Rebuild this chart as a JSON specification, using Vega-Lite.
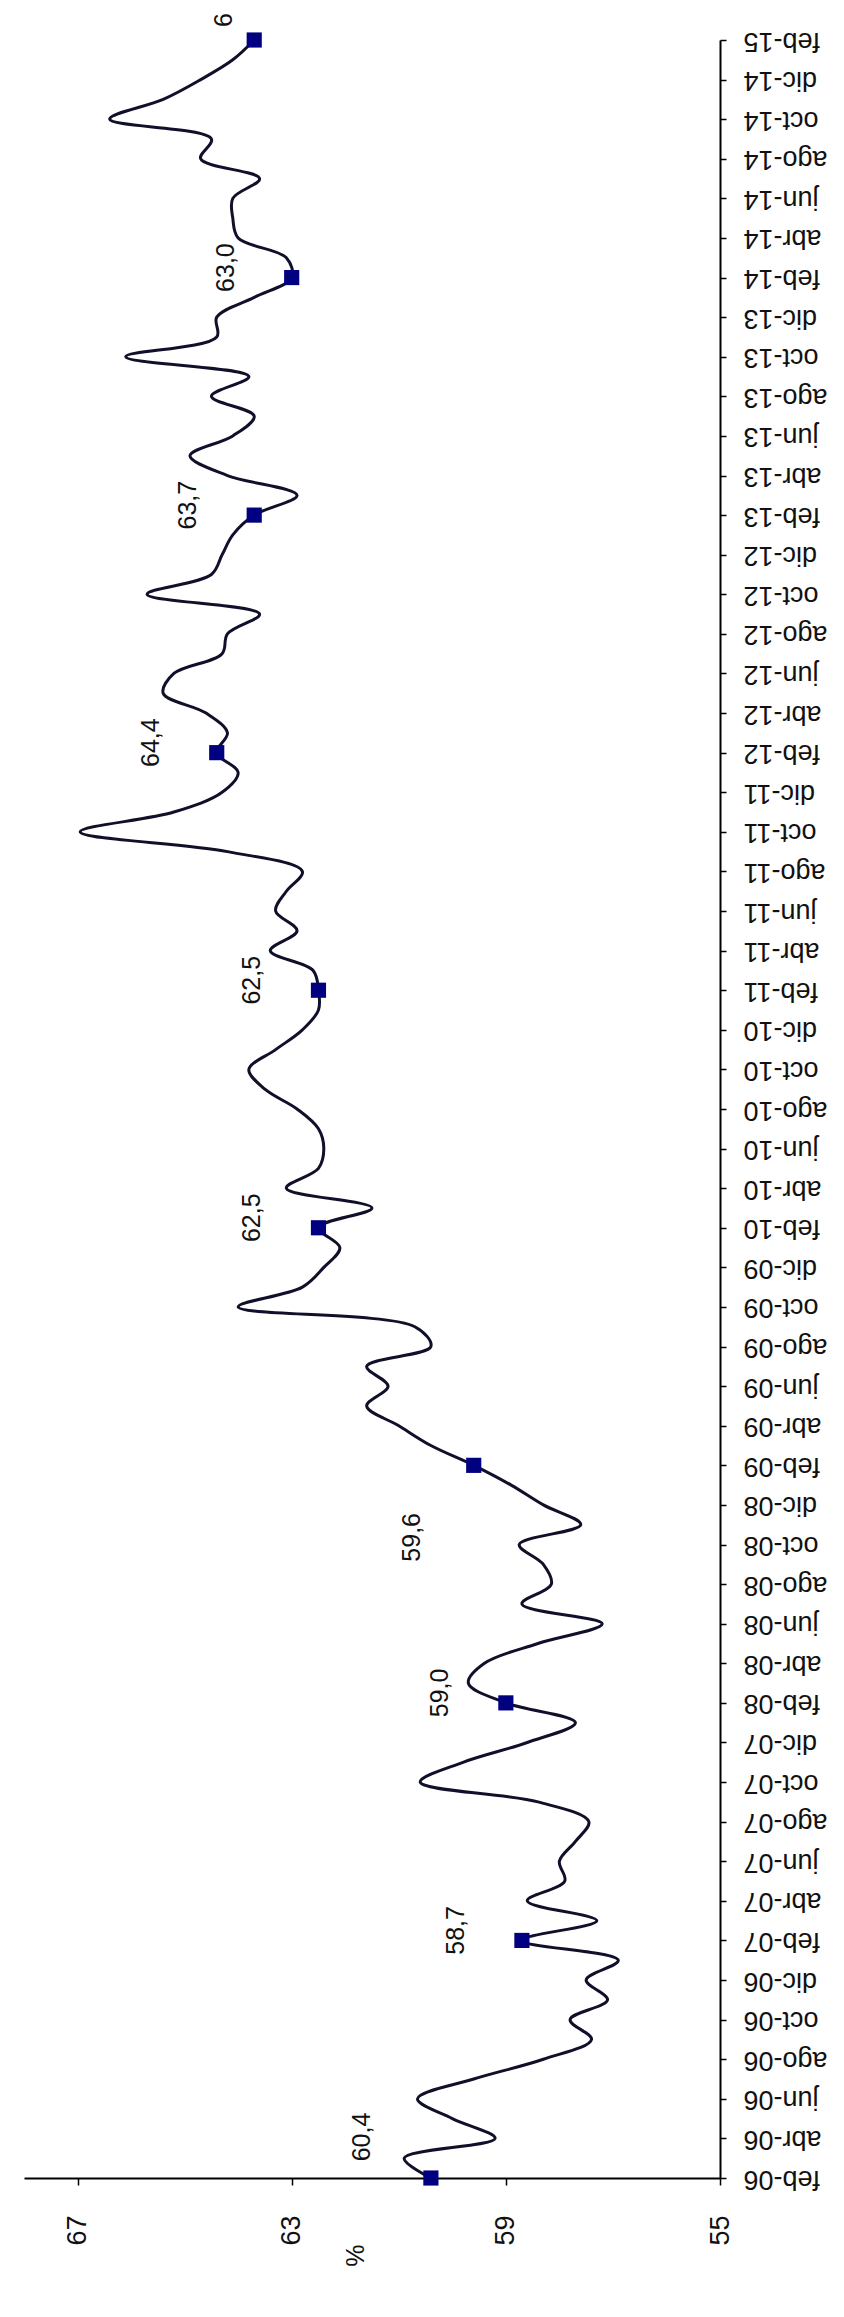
{
  "$schema": "https://vega.github.io/schema/vega-lite/v6.json",
  "width": 696,
  "height": 2138,
  "autosize": {"type": "none"},
  "padding": {"left": 24, "top": 40, "right": 124, "bottom": 139},
  "background": "white",
  "config": {"view": {"stroke": null}, "font": "Liberation Sans"},
  "data": {"values": [
    {"mes": "feb-06", "valor": 60.4, "etiqueta": "60,4"},
    {"mes": "mar-06", "valor": 60.9},
    {"mes": "abr-06", "valor": 59.2},
    {"mes": "may-06", "valor": 60.0},
    {"mes": "jun-06", "valor": 60.65},
    {"mes": "jul-06", "valor": 59.6},
    {"mes": "ago-06", "valor": 58.3},
    {"mes": "sep-06", "valor": 57.4},
    {"mes": "oct-06", "valor": 57.8},
    {"mes": "nov-06", "valor": 57.1},
    {"mes": "dic-06", "valor": 57.5},
    {"mes": "ene-07", "valor": 56.9},
    {"mes": "feb-07", "valor": 58.7, "etiqueta": "58,7"},
    {"mes": "mar-07", "valor": 57.3},
    {"mes": "abr-07", "valor": 58.6},
    {"mes": "may-07", "valor": 57.9},
    {"mes": "jun-07", "valor": 58.0},
    {"mes": "jul-07", "valor": 57.7},
    {"mes": "ago-07", "valor": 57.45},
    {"mes": "sep-07", "valor": 58.4},
    {"mes": "oct-07", "valor": 60.6},
    {"mes": "nov-07", "valor": 59.8},
    {"mes": "dic-07", "valor": 58.6},
    {"mes": "ene-08", "valor": 57.7},
    {"mes": "feb-08", "valor": 59.0, "etiqueta": "59,0"},
    {"mes": "mar-08", "valor": 59.7},
    {"mes": "abr-08", "valor": 59.4},
    {"mes": "may-08", "valor": 58.4},
    {"mes": "jun-08", "valor": 57.2},
    {"mes": "jul-08", "valor": 58.7},
    {"mes": "ago-08", "valor": 58.15},
    {"mes": "sep-08", "valor": 58.3},
    {"mes": "oct-08", "valor": 58.75},
    {"mes": "nov-08", "valor": 57.6},
    {"mes": "dic-08", "valor": 58.3},
    {"mes": "ene-09", "valor": 58.9},
    {"mes": "feb-09", "valor": 59.6, "etiqueta": "59,6"},
    {"mes": "mar-09", "valor": 60.4},
    {"mes": "abr-09", "valor": 61.0},
    {"mes": "may-09", "valor": 61.6},
    {"mes": "jun-09", "valor": 61.2},
    {"mes": "jul-09", "valor": 61.6},
    {"mes": "ago-09", "valor": 60.4},
    {"mes": "sep-09", "valor": 60.7},
    {"mes": "oct-09", "valor": 64.0},
    {"mes": "nov-09", "valor": 62.8},
    {"mes": "dic-09", "valor": 62.4},
    {"mes": "ene-10", "valor": 62.1},
    {"mes": "feb-10", "valor": 62.5, "etiqueta": "62,5"},
    {"mes": "mar-10", "valor": 61.5},
    {"mes": "abr-10", "valor": 63.1},
    {"mes": "may-10", "valor": 62.5},
    {"mes": "jun-10", "valor": 62.4},
    {"mes": "jul-10", "valor": 62.5},
    {"mes": "ago-10", "valor": 62.9},
    {"mes": "sep-10", "valor": 63.5},
    {"mes": "oct-10", "valor": 63.8},
    {"mes": "nov-10", "valor": 63.3},
    {"mes": "dic-10", "valor": 62.8},
    {"mes": "ene-11", "valor": 62.5},
    {"mes": "feb-11", "valor": 62.5, "etiqueta": "62,5"},
    {"mes": "mar-11", "valor": 62.6},
    {"mes": "abr-11", "valor": 63.4},
    {"mes": "may-11", "valor": 62.9},
    {"mes": "jun-11", "valor": 63.3},
    {"mes": "jul-11", "valor": 63.1},
    {"mes": "ago-11", "valor": 62.8},
    {"mes": "sep-11", "valor": 64.2},
    {"mes": "oct-11", "valor": 66.95},
    {"mes": "nov-11", "valor": 65.2},
    {"mes": "dic-11", "valor": 64.3},
    {"mes": "ene-12", "valor": 64.0},
    {"mes": "feb-12", "valor": 64.4, "etiqueta": "64,4"},
    {"mes": "mar-12", "valor": 64.2},
    {"mes": "abr-12", "valor": 64.6},
    {"mes": "may-12", "valor": 65.4},
    {"mes": "jun-12", "valor": 65.2},
    {"mes": "jul-12", "valor": 64.3},
    {"mes": "ago-12", "valor": 64.2},
    {"mes": "sep-12", "valor": 63.6},
    {"mes": "oct-12", "valor": 65.7},
    {"mes": "nov-12", "valor": 64.5},
    {"mes": "dic-12", "valor": 64.3},
    {"mes": "ene-13", "valor": 64.1},
    {"mes": "feb-13", "valor": 63.7, "etiqueta": "63,7"},
    {"mes": "mar-13", "valor": 62.9},
    {"mes": "abr-13", "valor": 64.2},
    {"mes": "may-13", "valor": 64.9},
    {"mes": "jun-13", "valor": 64.1},
    {"mes": "jul-13", "valor": 63.7},
    {"mes": "ago-13", "valor": 64.5},
    {"mes": "sep-13", "valor": 63.8},
    {"mes": "oct-13", "valor": 66.1},
    {"mes": "nov-13", "valor": 64.4},
    {"mes": "dic-13", "valor": 64.4},
    {"mes": "ene-14", "valor": 63.7},
    {"mes": "feb-14", "valor": 63.0, "etiqueta": "63,0"},
    {"mes": "mar-14", "valor": 63.1},
    {"mes": "abr-14", "valor": 64.0},
    {"mes": "may-14", "valor": 64.1},
    {"mes": "jun-14", "valor": 64.1},
    {"mes": "jul-14", "valor": 63.6},
    {"mes": "ago-14", "valor": 64.7},
    {"mes": "sep-14", "valor": 64.5},
    {"mes": "oct-14", "valor": 66.4},
    {"mes": "nov-14", "valor": 65.4},
    {"mes": "dic-14", "valor": 64.7},
    {"mes": "ene-15", "valor": 64.1},
    {"mes": "feb-15", "valor": 63.7, "etiqueta": "6"}
  ]},
  "encoding": {
    "y": {
      "field": "mes", "type": "ordinal", "sort": null,
      "scale": {"type": "point", "padding": 0, "reverse": true},
      "axis": {
        "orient": "right", "title": null, "grid": false, "labelOverlap": false,
        "values": ["feb-06","abr-06","jun-06","ago-06","oct-06","dic-06","feb-07","abr-07","jun-07","ago-07","oct-07","dic-07","feb-08","abr-08","jun-08","ago-08","oct-08","dic-08","feb-09","abr-09","jun-09","ago-09","oct-09","dic-09","feb-10","abr-10","jun-10","ago-10","oct-10","dic-10","feb-11","abr-11","jun-11","ago-11","oct-11","dic-11","feb-12","abr-12","jun-12","ago-12","oct-12","dic-12","feb-13","abr-13","jun-13","ago-13","oct-13","dic-13","feb-14","abr-14","jun-14","ago-14","oct-14","dic-14","feb-15"],
        "labelAngle": 180, "labelAlign": "right", "labelBaseline": "middle",
        "labelFontSize": 27, "labelColor": "#111", "labelPadding": 17,
        "tickSize": 6, "tickColor": "#000", "tickWidth": 1.5,
        "domainColor": "#000", "domainWidth": 2
      }
    },
    "x": {
      "field": "valor", "type": "quantitative",
      "scale": {"domain": [55, 68], "reverse": true, "nice": false, "zero": false},
      "axis": {
        "orient": "bottom", "grid": false, "values": [55, 59, 63, 67],
        "labelAngle": -90, "labelAlign": "right", "labelBaseline": "middle",
        "labelFontSize": 27, "labelColor": "#111", "labelPadding": 30,
        "tickSize": 7, "tickColor": "#000", "tickWidth": 1.5,
        "domainColor": "#000", "domainWidth": 2,
        "title": "%", "titleAngle": -90, "titleFontSize": 25, "titleFontWeight": "normal",
        "titleColor": "#111", "titlePadding": 10, "titleX": 319
      }
    }
  },
  "layer": [
    {
      "mark": {"type": "line", "interpolate": "catmull-rom", "color": "#10102a", "strokeWidth": 3},
      "encoding": {"order": {"value": null}}
    },
    {
      "transform": [{"filter": "datum.etiqueta != null"}],
      "mark": {"type": "point", "shape": "square", "filled": true, "size": 230, "color": "#000080", "opacity": 1}
    },
    {
      "transform": [{"filter": "datum.etiqueta != null && datum.mes != 'feb-06' && datum.mes != 'feb-09' && datum.mes != 'feb-15'"}],
      "mark": {"type": "text", "angle": 270, "fontSize": 25, "dx": 10, "dy": -66, "align": "center", "baseline": "middle", "color": "#111"},
      "encoding": {"text": {"field": "etiqueta"}}
    },
    {
      "transform": [{"filter": "datum.mes == 'feb-06'"}],
      "mark": {"type": "text", "angle": 270, "fontSize": 25, "dx": 41, "dy": -69, "align": "center", "baseline": "middle", "color": "#111"},
      "encoding": {"text": {"field": "etiqueta"}}
    },
    {
      "transform": [{"filter": "datum.mes == 'feb-09'"}],
      "mark": {"type": "text", "angle": 270, "fontSize": 25, "dx": -72, "dy": -62, "align": "center", "baseline": "middle", "color": "#111"},
      "encoding": {"text": {"field": "etiqueta"}}
    },
    {
      "transform": [{"filter": "datum.mes == 'feb-15'"}],
      "mark": {"type": "text", "angle": 270, "fontSize": 25, "dx": 20, "dy": -30, "align": "center", "baseline": "middle", "color": "#111"},
      "encoding": {"text": {"field": "etiqueta"}}
    }
  ]
}
